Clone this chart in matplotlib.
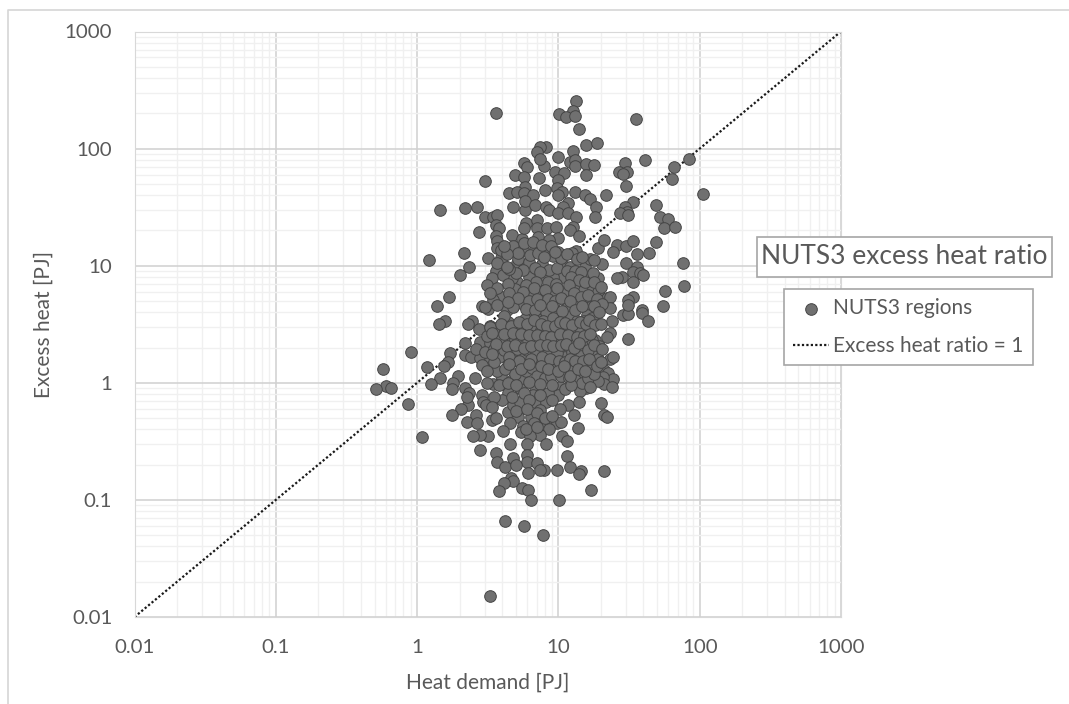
import matplotlib
matplotlib.use('Agg')
import matplotlib.pyplot as plt
from matplotlib.lines import Line2D
from matplotlib.patches import Rectangle
from matplotlib.ticker import NullFormatter, LogLocator

plt.rcParams['font.family'] = ['Lato', 'DejaVu Sans']

# values, in PJ
heat_demand = [
    3.3, 7.8, 5.7, 4.2, 13.3, 3.6, 10.1, 12.7, 11.3, 13.1,
    35.5, 14, 15.7, 18.8, 8.2, 7.4, 7.1, 12.7, 10, 12.1,
    13.1, 13.1, 15.7, 17.9, 29.6, 41, 84, 66, 64, 106,
    27, 30.6, 28.7, 30, 5.7, 6, 7.9, 7.4, 9.5, 11,
    4.9, 5.7, 7.3, 15.7, 10, 3, 5.8, 4.5, 5.1, 5.7,
    6.6, 8.05, 9.8, 10.6, 10, 13.1, 15.4, 16.8, 21.7, 11.7,
    10.8, 4.8, 5.8, 5.8, 6.8, 8.2, 8.6, 10, 11.7, 13.3,
    18.5, 18.2, 33.8, 29.6, 30.6, 27.4, 31, 49, 52, 59.4,
    56, 67, 49, 1.45, 2.2, 2.66, 3, 3.45, 3.7, 3.6,
    3.8, 2.75, 4.7, 3.6, 3.7, 3.67, 5.5, 4.8, 5.9, 7,
    5.7, 7, 8.3, 9.6, 12.7, 12, 14, 7.2, 10, 8.6,
    6.8, 5.6, 8.6, 10, 13.3, 12.5, 19, 21, 26, 30,
    33.8, 24.4, 36, 44, 1.22, 2.15, 2.33, 2, 3.2, 3.9,
    4, 5.1, 5.2, 6.2, 7.6, 9.2, 10.6, 12.1, 15.4, 20.4,
    16.8, 30, 36, 76, 34, 38, 40, 28, 26, 34,
    19, 16, 13.6, 10.8, 9.2, 7.8, 6.2, 5.1, 4.7, 3.6,
    3.4, 3.1, 4.05, 78, 57, 34, 31, 55, 1.69, 1.39,
    15.2, 17.6, 19, 22, 23, 9, 10.8, 7.4, 6.4, 4.9,
    4, 3.45, 2.9, 4.8, 5.6, 8, 11.5, 13.3, 16.2, 23,
    39, 1.58, 1.43, 2.45, 2.3, 2.75, 3.3, 4.3, 3.2, 3,
    4.8, 6.3, 5.5, 4.4, 8.2, 9.8, 8.9, 10, 12.3, 11.7,
    16.8, 18.6, 16, 24, 28.7, 31, 39, 43, 31, 14.9,
    16.4, 14.2, 18.2, 23.2, 22, 31, 2.2, 2.8, 3.3, 3.67,
    4.4, 4.4, 5.2, 5.45, 6.1, 7.4, 7.2, 9, 7.8, 10.8,
    11.5, 14.9, 15.7, 12.9, 23, 24.4, 1.71, 2.18, 2.4, 2.8,
    3.3, 3.8, 4.7, 5.6, 7, 9.2, 11.2, 1.66, 1.55, 2.9,
    4.4, 5.35, 7.6, 9.2, 11.2, 16, 17.3, 14.2, 21, 22.4,
    24.4, 20.7, 21, 19, 24, 15.7, 13.8, 14.2, 10.2, 10,
    8.4, 6.8, 5.35, 4.4, 5.5, 4.7, 3.9, 3.45, 3.1, 2.55,
    1.95, 1.8, 1.77, 1.45, 1.25, 1.18, .91, .57, .6, .65,
    .51, .86, 1.08, 2.18, 2.33, 2.3, 2.05, 2.25, 2.9, 2.95,
    3.05, 1.77, 2.6, 2.25, 2.65, 3.4, 3.6, 4.4, 4.8, 5.35,
    6.6, 6.8, 8.2, 7.4, 6.4, 5.2, 4.55, 5.6, 7.4, 8.7,
    9.8, 10.4, 11.7, 14, 12.9, 20, 21, 22, 13.8, 8.6,
    7.4, 5.45, 6.3, 4.05, 3.2, 2.8, 2.5, 10.6, 11.5, 8.2,
    6, 4.55, 2.8, 3.6, 6, 11.5, 4.8, 3.7, 6, 4.2,
    5, 7, 12.1, 7.9, 9.8, 7.4, 6.1, 14.5, 14, 21,
    4.6, 4.8, 4.1, 5.5, 6.1, 3.8, 17, 6.4, 10.1, 4.1,
    5.8, 6.9, 7.8, 9.2, 10.8, 12.2, 13.5, 15.2, 17.2, 3.6,
    4.2, 5, 5.8, 6.6, 7.5, 8.6, 9.4, 11, 12.8, 14,
    3.1, 3.9, 4.9, 6.7, 7.9, 9.5, 10, 12, 13.2, 15.8,
    17.2, 19.5, 2.6, 3, 3.5, 4.1, 5.1, 6, 6.9, 8.4,
    9.8, 12.4, 13.6, 14.5, 17, 19, 3.7, 4.2, 4.9, 5.9,
    6.5, 7, 8, 8.8, 9.8, 10.5, 11.8, 12.5, 13, 14.8,
    16.2, 18, 3.8, 4.4, 5, 6.2, 7.4, 9, 11.2, 12.2,
    16.6, 4, 4.7, 5.7, 6.2, 7.4, 9, 10.2, 3.5, 3.4,
    5, 6, 7, 8, 9, 6.7, 5.9, 7, 5.6, 6.8,
    8.6, 9.8, 11.5, 13, 14.5, 17.5, 7.4, 5, 4.5, 12.3,
    14, 15.5, 18, 20, 8.4, 9.6, 6.9, 5.9, 4.4, 3.7,
    3.3, 4.5, 5.6, 6.7, 8.1, 9.8, 11.8, 12.8, 14.4, 16.2,
    18.8, 20.5, 5.2, 6.2, 7, 8.4, 9.4, 10.4, 12, 13,
    14.8, 17.8, 19.5, 3.7, 4.4, 5.9, 6.8, 7.4, 9, 10.6,
    3.67, 4.3, 5.2, 6.3, 7.2, 7.9, 10.4, 11.5, 13.5, 14.8,
    17.8, 5.7, 6.6, 7.7, 8.9, 9.5, 3.9, 4.3, 4.1, 3.5,
    3.3, 3.9, 4.6, 5.3, 6, 6.7, 7.5, 8.3, 9.4, 10.3,
    11.2, 12.5, 14.2, 15.6, 16.4, 18.2, 20, 3.4, 4.1, 4.8,
    5.4, 6.2, 7, 8, 8.9, 10.3, 11.7, 13.6, 15.1, 16.8,
    3.6, 4.3, 4.9, 5.7, 6.4, 7.4, 8.3, 9.2, 10.4, 11.4,
    12.8, 14, 16.3, 18, 20.5, 3.4, 4.5, 5.3, 6.4, 7.6,
    8.7, 10.1, 11.1, 12, 13.2, 15, 16.4, 18.7, 20, 3.1,
    4.5, 5.4, 6.2, 7.5, 8.4, 10, 10.9, 12, 13.7, 15.5,
]
excess_heat = [
    .015, .05, .06, .066, 256, 202, 198, 210, 187, 190,
    180, 148, 108, 112, 104, 104, 94, 96, 85, 77,
    80, 71, 74, 73, 76, 80, 82, 70, 55, 41,
    63, 63, 61, 48, 76, 70, 71, 82, 63, 62,
    60, 57, 56, 59, 54, 53, 47, 42, 43, 42,
    40, 44, 46, 43, 40, 43, 40, 37, 40, 34,
    32, 32, 30, 36, 33, 32, 30, 28, 28, 26,
    32, 26, 35, 32, 29, 28, 27, 33, 26, 25,
    21, 21.5, 16, 30, 31, 32, 26, 26, 27, 22.4,
    21, 19.5, 18.4, 18, 16.3, 14.2, 17, 14.8, 23, 24.7,
    21, 21, 21, 21.5, 21.5, 20, 18, 17.7, 17.3, 16.6,
    14, 13.7, 13.1, 13.1, 13.4, 12.9, 14.2, 16.6, 15, 14.8,
    16.3, 13.1, 12.7, 12.9, 11.2, 12.9, 9.8, 8.4, 11.7, 11.7,
    10.6, 10.6, 11.4, 10.8, 10.4, 12, 10.6, 9.8, 9.8, 10.4,
    11.4, 10.6, 9.8, 10.6, 8.9, 8.7, 8.4, 8, 7.8, 7.3,
    7.9, 7.8, 6.7, 8, 8, 8.4, 8, 7.3, 7.8, 9,
    7.8, 6.9, 8.4, 6.7, 6.1, 5.4, 5.1, 4.5, 5.4, 4.5,
    6.2, 6.5, 6, 5.3, 5.4, 6, 6, 6.2, 5.5, 6.3,
    5.4, 5.1, 4.5, 4.5, 4.7, 4.35, 4.5, 4.9, 4.8, 4.35,
    4.2, 3.4, 3.2, 3.4, 3.2, 2.9, 3.05, 4.2, 4.25, 4.4,
    4.4, 3.65, 3.1, 3.3, 4, 4, 3.3, 2.95, 3.1, 4.5,
    4.4, 3.95, 3.8, 3.4, 3.8, 3.9, 3.95, 3.4, 4.6, 2.8,
    3, 2.43, 2.33, 2.68, 2.47, 2.38, 2.2, 2.25, 2.2, 2.5,
    2.47, 2.15, 2.5, 2.2, 2.33, 2.47, 2.68, 2, 1.98, 2.25,
    1.98, 2.25, 1.73, 1.73, 1.6, 1.67, 1.8, 1.73, 1.67, 1.63,
    1.57, 1.67, 1.85, 1.73, 1.55, 1.48, 1.67, 1.5, 1.4, 1.43,
    1.43, 1.48, 1.29, 1.24, 1.32, 1.43, 1.43, 1.17, 1.29, 1.22,
    1.08, 1.12, .98, 1.04, .92, .9, .98, .85, .92, .79,
    .82, .92, .9, .82, 1.1, 1.06, 1.17, .98, 1, 1.1,
    1.15, 1, .89, 1.1, .98, 1.37, 1.85, 1.32, .94, .9,
    .89, .66, .345, .9, .82, .65, .6, .75, .79, .68,
    .65, .53, .53, .46, .45, .48, .5, .56, .65, .68,
    .79, .68, .68, .59, .51, .51, .45, .43, .44, .47,
    .45, .46, .64, .68, .53, .67, .53, .51, .41, .4,
    .36, .38, .35, .39, .35, .36, .35, .35, .32, .3,
    .3, .3, .265, .25, .24, .235, .23, .21, .21, .19,
    .2, .205, .19, .18, .18, .18, .17, .175, .165, .175,
    .155, .145, .14, .127, .122, .12, .122, .1, .1, 3.75,
    3.5, 3.6, 3.4, 3.6, 3.5, 3.7, 3.4, 3.4, 3.6, 2.95,
    2.9, 2.85, 2.9, 2.95, 2.85, 2.8, 2.6, 2.7, 2.65, 3,
    2.5, 2.35, 2.3, 2.2, 2.3, 2.2, 2.45, 2.4, 2.2, 2.1,
    2.3, 2.05, 1.95, 1.85, 1.95, 1.9, 1.95, 1.9, 1.85, 1.8,
    1.8, 1.85, 1.95, 1.7, 1.8, 1.6, 1.25, 1.3, 1.2, 1.25,
    1.35, 1.15, 1.1, 1.15, 1.35, 1.15, 1.1, 1.3, 1.05, 1,
    1.1, 1.2, .95, 1, .95, 1.02, .98, .95, .88, .95,
    .92, .72, .75, .82, .72, .78, .72, .6, .75, .62,
    .58, .6, .55, .5, .52, .45, .4, .42, 9.2, 9.5,
    9.2, 9.6, 9, 9, 8.8, 8.6, 8.8, 8.6, 9.4, 8,
    7.6, 7.2, 7.2, 6.6, 7.2, 7, 7.3, 6.8, 7, 6.5,
    5.8, 5.9, 6, 6.5, 6.2, 6.5, 6.8, 5.8, 5.4, 5.6,
    5.2, 4.7, 5.3, 5, 5.2, 5.2, 5, 5.3, 5, 4.2,
    4.5, 4.5, 4, 4.6, 4.9, 4.3, 4.2, 4.6, 4.5, 4.1,
    10.6, 9.8, 12.8, 12.4, 12.8, 11.8, 11.6, 12.5, 11.5, 11.8,
    11.2, 15.5, 16, 15, 14.8, 13, 13.5, 12.5, 14.8, 1.5,
    3, 3.2, 3.05, 3.3, 3.15, 3.45, 3.2, 3.05, 3.05, 3.3,
    3.25, 3.1, 3.3, 3.2, 3.45, 3.1, 3.2, 2.65, 2.6, 2.65,
    2.6, 2.55, 2.55, 2.5, 2.45, 2.6, 2.55, 2.45, 2.5, 2.6,
    2.15, 2.05, 2.1, 2, 2.05, 2.1, 2.1, 2.05, 2.1, 2.15,
    2, 2.2, 1.9, 2.1, 1.95, 1.75, 1.65, 1.55, 1.6, 1.65,
    1.6, 1.55, 1.5, 1.6, 1.55, 1.55, 1.6, 1.4, 1.5, 1.25,
    1.45, 1.3, 1.45, 1.4, 1.3, 1.25, 1.4, 1.15, 1.3, 1.25,
]
ratio_line = [0.01, 1000]
tick_values = [0.01, 0.1, 1, 10, 100, 1000]
tick_labels = ['0.01', '0.1', '1', '10', '100', '1000']

W, H = 1069, 704
TEXT = '#595959'

fig = plt.figure(figsize=(W / 100, H / 100), dpi=100)
ax = fig.add_axes([134.5 / W, 1 - 617 / H, 706.5 / W, 585.5 / H])

# outer chart border, only top and left are in the crop
fig.add_artist(Line2D([7.5 / W, 7.5 / W, 1], [0, 1 - 9.5 / H, 1 - 9.5 / H], color='#d6d6d6', lw=1.2))

ax.set_xscale('log')
ax.set_yscale('log')
ax.set_xlim(0.01, 1000)
ax.set_ylim(0.01, 1000)
ax.set_xticks(tick_values, tick_labels)
ax.set_yticks(tick_values, tick_labels)
for axis in (ax.xaxis, ax.yaxis):
    axis.set_minor_locator(LogLocator(base=10, subs=range(2, 10), numticks=20))
    axis.set_minor_formatter(NullFormatter())
ax.tick_params(which='both', length=0, labelsize=14.7, labelcolor=TEXT)
ax.tick_params(axis='x', which='major', pad=16)
ax.tick_params(axis='y', which='major', pad=16)
ax.grid(which='minor', color='#f0f0f0', lw=1.0)
ax.grid(which='major', color='#d0d0d0', lw=1.1)
ax.set_axisbelow(True)
for s in ax.spines.values():
    s.set_color('#d8d8d8')

pts = ax.scatter(heat_demand, excess_heat, s=70, c='#707070', edgecolors='#454545',
                 linewidths=0.7, zorder=3, label='NUTS3 regions', clip_on=False)
line, = ax.plot(ratio_line, ratio_line, color='#1a1a1a', ls=(0, (1, 1)), lw=1.6, zorder=2,
                label='Excess heat ratio = 1')

ax.set_xlabel('Heat demand [PJ]', fontsize=15, color=TEXT, labelpad=12)
ax.set_ylabel('Excess heat [PJ]', fontsize=15, color=TEXT, labelpad=8)

leg = ax.legend(handles=[pts, line], loc='upper left', bbox_to_anchor=(784 / W, 1 - 289 / H),
                bbox_transform=fig.transFigure, fontsize=15, labelcolor=TEXT, fancybox=False,
                framealpha=1, edgecolor='#a6a6a6', borderaxespad=0, handlelength=1.7,
                handletextpad=0.2, labelspacing=0.85, borderpad=0.45)
leg.get_frame().set_linewidth(1.2)

# title box sits outside the plot, next to the legend
fig.add_artist(Rectangle((757 / W, 1 - 277 / H), 295 / W, 40 / H, transform=fig.transFigure,
                         fc='white', ec='#a6a6a6', lw=1.2, zorder=4))
fig.text(904.5 / W, 1 - 257 / H, 'NUTS3 excess heat ratio', ha='center', va='center', fontsize=19,
         color=TEXT, zorder=5)

fig.savefig('out.png', dpi=100)
